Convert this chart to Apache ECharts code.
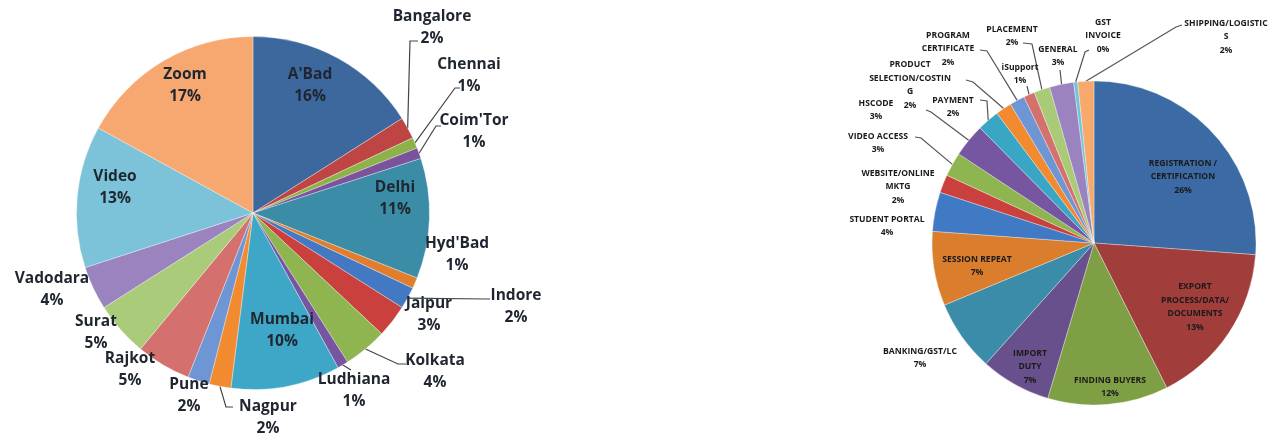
<!DOCTYPE html>
<html><head><meta charset="utf-8">
<script src="https://cdn.jsdelivr.net/npm/echarts@6/dist/echarts.min.js"></script>
<style>html,body{margin:0;padding:0;background:#fff}#c{width:1273px;height:436px}</style>
</head><body><div id="c"></div>
<script>
// ---- Left pie: share by city / channel (%)
const cityNames = ["A'Bad","Bangalore","Chennai","Coim'Tor","Delhi","Hyd'Bad","Indore","Jaipur","Kolkata","Ludhiana","Mumbai","Nagpur","Pune","Rajkot","Surat","Vadodara","Video","Zoom"];
const cityShares = [16,2,1,1,11,1,2,3,4,1,10,2,2,5,5,4,13,17];

// ---- Right pie: share by query topic
const topicNames = ["REGISTRATION /\nCERTIFICATION","EXPORT\nPROCESS/DATA/\nDOCUMENTS","FINDING BUYERS","IMPORT\nDUTY","BANKING/GST/LC","SESSION REPEAT","STUDENT PORTAL","WEBSITE/ONLINE\nMKTG","VIDEO ACCESS","HSCODE","PAYMENT","PRODUCT\nSELECTION/COSTIN\nG","PROGRAM\nCERTIFICATE","iSupport","PLACEMENT","GENERAL","GST\nINVOICE","SHIPPING/LOGISTIC\nS"];
// slice sizes
const topicShares = [26.1,16.4,12.0,7.0,7.1,7.4,3.9,1.8,2.4,3.3,2.2,1.6,1.5,1.1,1.6,2.4,0.4,1.6];
// percentages printed on the chart
const topicPrinted = [26,13,12,7,7,7,4,2,3,3,2,2,2,1,2,3,0,2];

// ---- styles / layout (not data)
const cityColors = ["#3D689E","#BE4543","#8DB249","#7A539C","#3B8CA6","#E07E2E","#4379C2","#C9403D","#8FB550","#7656A0","#3EA7C8","#F28A30","#6F96D4","#D4716F","#AACB7A","#9A83BF","#7CC2D8","#F7A870"];
const topicColors = ["#3C6AA4","#A13D3B","#7F9F45","#68508C","#3A8CA8","#DA7D2C","#4079C4","#C9403D","#8FB550","#7656A0","#39A6C6","#F28A30","#6F96D4","#D4716F","#A9CB78","#9A83BF","#72C4DA","#F7A96C"];

const cityLayout = [
  {x:310,y:86,inside:true},
  {x:432,y:28,line:[[410,41],[418,41]]},
  {x:469,y:76,line:[[455,88],[460,88]]},
  {x:474,y:132,line:[[436,126],[441,126]]},
  {x:395,y:199,inside:true},
  {x:457,y:255},
  {x:516,y:307,line:[[485,299],[490,299]]},
  {x:429,y:315},
  {x:435,y:372,line:[[398,364],[406,364]]},
  {x:354,y:391,line:[[351,370],[351,370]]},
  {x:282,y:331,inside:true},
  {x:268,y:418,line:[[226,407],[233,407]]},
  {x:189,y:396},
  {x:130,y:370},
  {x:96,y:333},
  {x:52,y:290},
  {x:115,y:188,inside:true},
  {x:185,y:86,inside:true}
];
const topicLayout = [
  {x:1183,y:177,inside:true},
  {x:1195,y:307,inside:true},
  {x:1110,y:387,inside:true},
  {x:1030,y:367,inside:true},
  {x:920,y:358},
  {x:977,y:266,inside:true},
  {x:887,y:226},
  {x:898,y:187},
  {x:878,y:143,line:[[921,138],[915,137]]},
  {x:876,y:110,line:[[931,112],[926,110]]},
  {x:953,y:107,line:[[987,101],[980,100]]},
  {x:910,y:85,line:[[973,82],[966,80]]},
  {x:948,y:49,line:[[987,51],[980,50]]},
  {x:1020,y:74,line:[[1027,86],[1027,86]]},
  {x:1012,y:36,line:[[1032,44],[1023,43]]},
  {x:1058,y:56,line:[[1060,70],[1060,70]]},
  {x:1103,y:36,line:[[1085,52],[1089,50]]},
  {x:1226,y:37,line:[[1176,27],[1182,25]]}
];

function buildData(names, values, colors, layout){
  return names.map((n,i)=>({
    name:n, value:values[i],
    itemStyle:{color:colors[i]},
    label:{position: layout[i].inside ? 'inside' : 'outside'},
    labelLine:{show: !!layout[i].line}
  }));
}
function makeLayout(layout){
  return function(p){
    const L = layout[p.dataIndex];
    const r = {x:L.x, y:L.y, align:'center', verticalAlign:'middle'};
    if (L.line && p.labelLinePoints && p.labelLinePoints.length){
      r.labelLinePoints = [p.labelLinePoints[0], L.line[0], L.line[1]];
    }
    return r;
  };
}

const chart = echarts.init(document.getElementById('c'), null, {renderer:'canvas'});
chart.setOption({
  backgroundColor:'#ffffff',
  animation:false,
  series:[
    {
      type:'pie', center:[253,213], radius:176.5, startAngle:90, clockwise:true,
      avoidLabelOverlap:false, silent:true,
      data: buildData(cityNames, cityShares, cityColors, cityLayout),
      itemStyle:{borderColor:'rgba(255,255,255,0.55)', borderWidth:0.6},
      label:{show:true, width:200, overflow:'none',
        fontFamily:'Open Sans', fontWeight:'bold', fontSize:15.5, lineHeight:22, color:'#1f2630',
        formatter:(p)=> p.name + '\n' + cityShares[p.dataIndex] + '%'},
      labelLine:{length:5,length2:5,smooth:false,lineStyle:{color:'#444',width:1.2}},
      labelLayout: makeLayout(cityLayout)
    },
    {
      type:'pie', center:[1094,243], radius:162, startAngle:90, clockwise:true,
      avoidLabelOverlap:false, silent:true,
      data: buildData(topicNames, topicShares, topicColors, topicLayout),
      itemStyle:{borderColor:'rgba(255,255,255,0.55)', borderWidth:0.6},
      label:{show:true, width:200, overflow:'none',
        fontFamily:'Open Sans', fontWeight:'bold', fontSize:8.6, lineHeight:13.5, color:'#1b1b1b',
        formatter:(p)=> p.name + '\n' + topicPrinted[p.dataIndex] + '%'},
      labelLine:{length:5,length2:5,smooth:false,lineStyle:{color:'#555',width:1.2}},
      labelLayout: makeLayout(topicLayout)
    }
  ]
});
</script>
</body></html>
